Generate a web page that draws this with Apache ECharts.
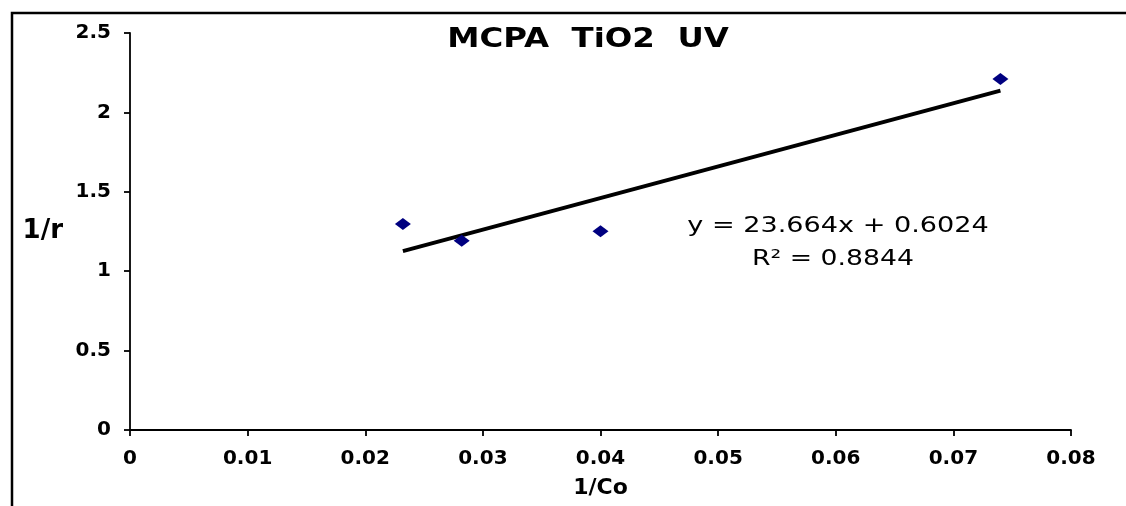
<!DOCTYPE html>
<html>
<head>
<meta charset="utf-8">
<script src="https://cdn.jsdelivr.net/npm/echarts@6/dist/echarts.min.js"></script>
<style>
  html, body { margin: 0; padding: 0; background: #fff; }
  #chart { width: 1126px; height: 506px; }
</style>
</head>
<body>
<div id="chart"></div>
<script>
// Measured points: 1/Co against 1/r
const invCo = [0.0232, 0.0282, 0.0400, 0.0740];
const invR  = [1.297, 1.192, 1.251, 2.210];

// Axis tick settings
const xTicks = { min: 0, max: 0.08, interval: 0.01 };
const yTicks = { min: 0, max: 2.5, interval: 0.5 };

// Text shown on the chart
const chartTitle = 'MCPA  TiO2  UV';
const equationText = 'y = 23.664x + 0.6024';
const r2Text = 'R\u00B2 = 0.8844';

// Least-squares linear trend through the points, drawn over their x range
function linearFit(xs, ys) {
  const n = xs.length;
  const mx = xs.reduce((a, b) => a + b, 0) / n;
  const my = ys.reduce((a, b) => a + b, 0) / n;
  let sxy = 0, sxx = 0;
  for (let i = 0; i < n; i++) {
    sxy += (xs[i] - mx) * (ys[i] - my);
    sxx += (xs[i] - mx) * (xs[i] - mx);
  }
  const slope = sxy / sxx;
  return { slope, intercept: my - slope * mx };
}
const fit = linearFit(invCo, invR);
const xLo = Math.min(...invCo), xHi = Math.max(...invCo);
const trend = [[xLo, fit.slope * xLo + fit.intercept], [xHi, fit.slope * xHi + fit.intercept]];

const points = invCo.map((x, i) => [x, invR[i]]);

const boldFont = 'DejaVu Sans';
const axisStyle = { lineStyle: { color: '#000', width: 1.8 } };

const chart = echarts.init(document.getElementById('chart'), null, { renderer: 'canvas' });
chart.setOption({
  backgroundColor: '#fff',
  animation: false,
  grid: { left: 130, right: 55, top: 33, bottom: 76 },
  xAxis: {
    type: 'value',
    min: xTicks.min, max: xTicks.max, interval: xTicks.interval,
    name: '1/Co',
    nameLocation: 'middle',
    nameGap: 47,
    nameTextStyle: { fontFamily: boldFont, fontWeight: 'bold', fontSize: 22, color: '#000' },
    axisLine: axisStyle,
    axisTick: { show: true, length: 6, lineStyle: { color: '#000', width: 1.8 } },
    axisLabel: { fontFamily: boldFont, fontWeight: 'bold', fontSize: 20, color: '#000', margin: 19 },
    splitLine: { show: false }
  },
  yAxis: {
    type: 'value',
    min: yTicks.min, max: yTicks.max, interval: yTicks.interval,
    name: '1/r',
    nameLocation: 'middle',
    nameRotate: 0,
    nameGap: 67,
    nameTextStyle: { fontFamily: boldFont, fontWeight: 'bold', fontSize: 26, color: '#000' },
    axisLine: { show: true, lineStyle: { color: '#000', width: 1.8 } },
    axisTick: { show: true, length: 6, lineStyle: { color: '#000', width: 1.8 } },
    axisLabel: { fontFamily: boldFont, fontWeight: 'bold', fontSize: 20, color: '#000', margin: 19 },
    splitLine: { show: false }
  },
  series: [
    {
      name: 'trend',
      type: 'line',
      data: trend,
      symbol: 'none',
      lineStyle: { color: '#000', width: 4 },
      z: 2
    },
    {
      name: '1/r',
      type: 'scatter',
      data: points,
      symbol: 'diamond',
      symbolSize: [16, 12],
      itemStyle: { color: '#000080', opacity: 1 },
      z: 3
    }
  ],
  graphic: [
    {
      type: 'rect',
      shape: { x: 12, y: 13, width: 1300, height: 700 },
      style: { fill: null, stroke: '#000', lineWidth: 2.5 },
      silent: true,
      z: -1
    },
    {
      type: 'text',
      x: 588, y: 40,
      scaleX: 1.2,
      style: {
        text: chartTitle,
        font: 'bold 27px "DejaVu Sans"',
        fill: '#000',
        align: 'center',
        verticalAlign: 'middle'
      }
    },
    {
      type: 'text',
      x: 838, y: 227,
      scaleX: 1.29,
      style: {
        text: equationText,
        font: '21px "DejaVu Sans"',
        fill: '#000',
        align: 'center',
        verticalAlign: 'middle'
      }
    },
    {
      type: 'text',
      x: 833, y: 260,
      scaleX: 1.27,
      style: {
        text: r2Text,
        font: '21px "DejaVu Sans"',
        fill: '#000',
        align: 'center',
        verticalAlign: 'middle'
      }
    }
  ]
});
</script>
</body>
</html>
